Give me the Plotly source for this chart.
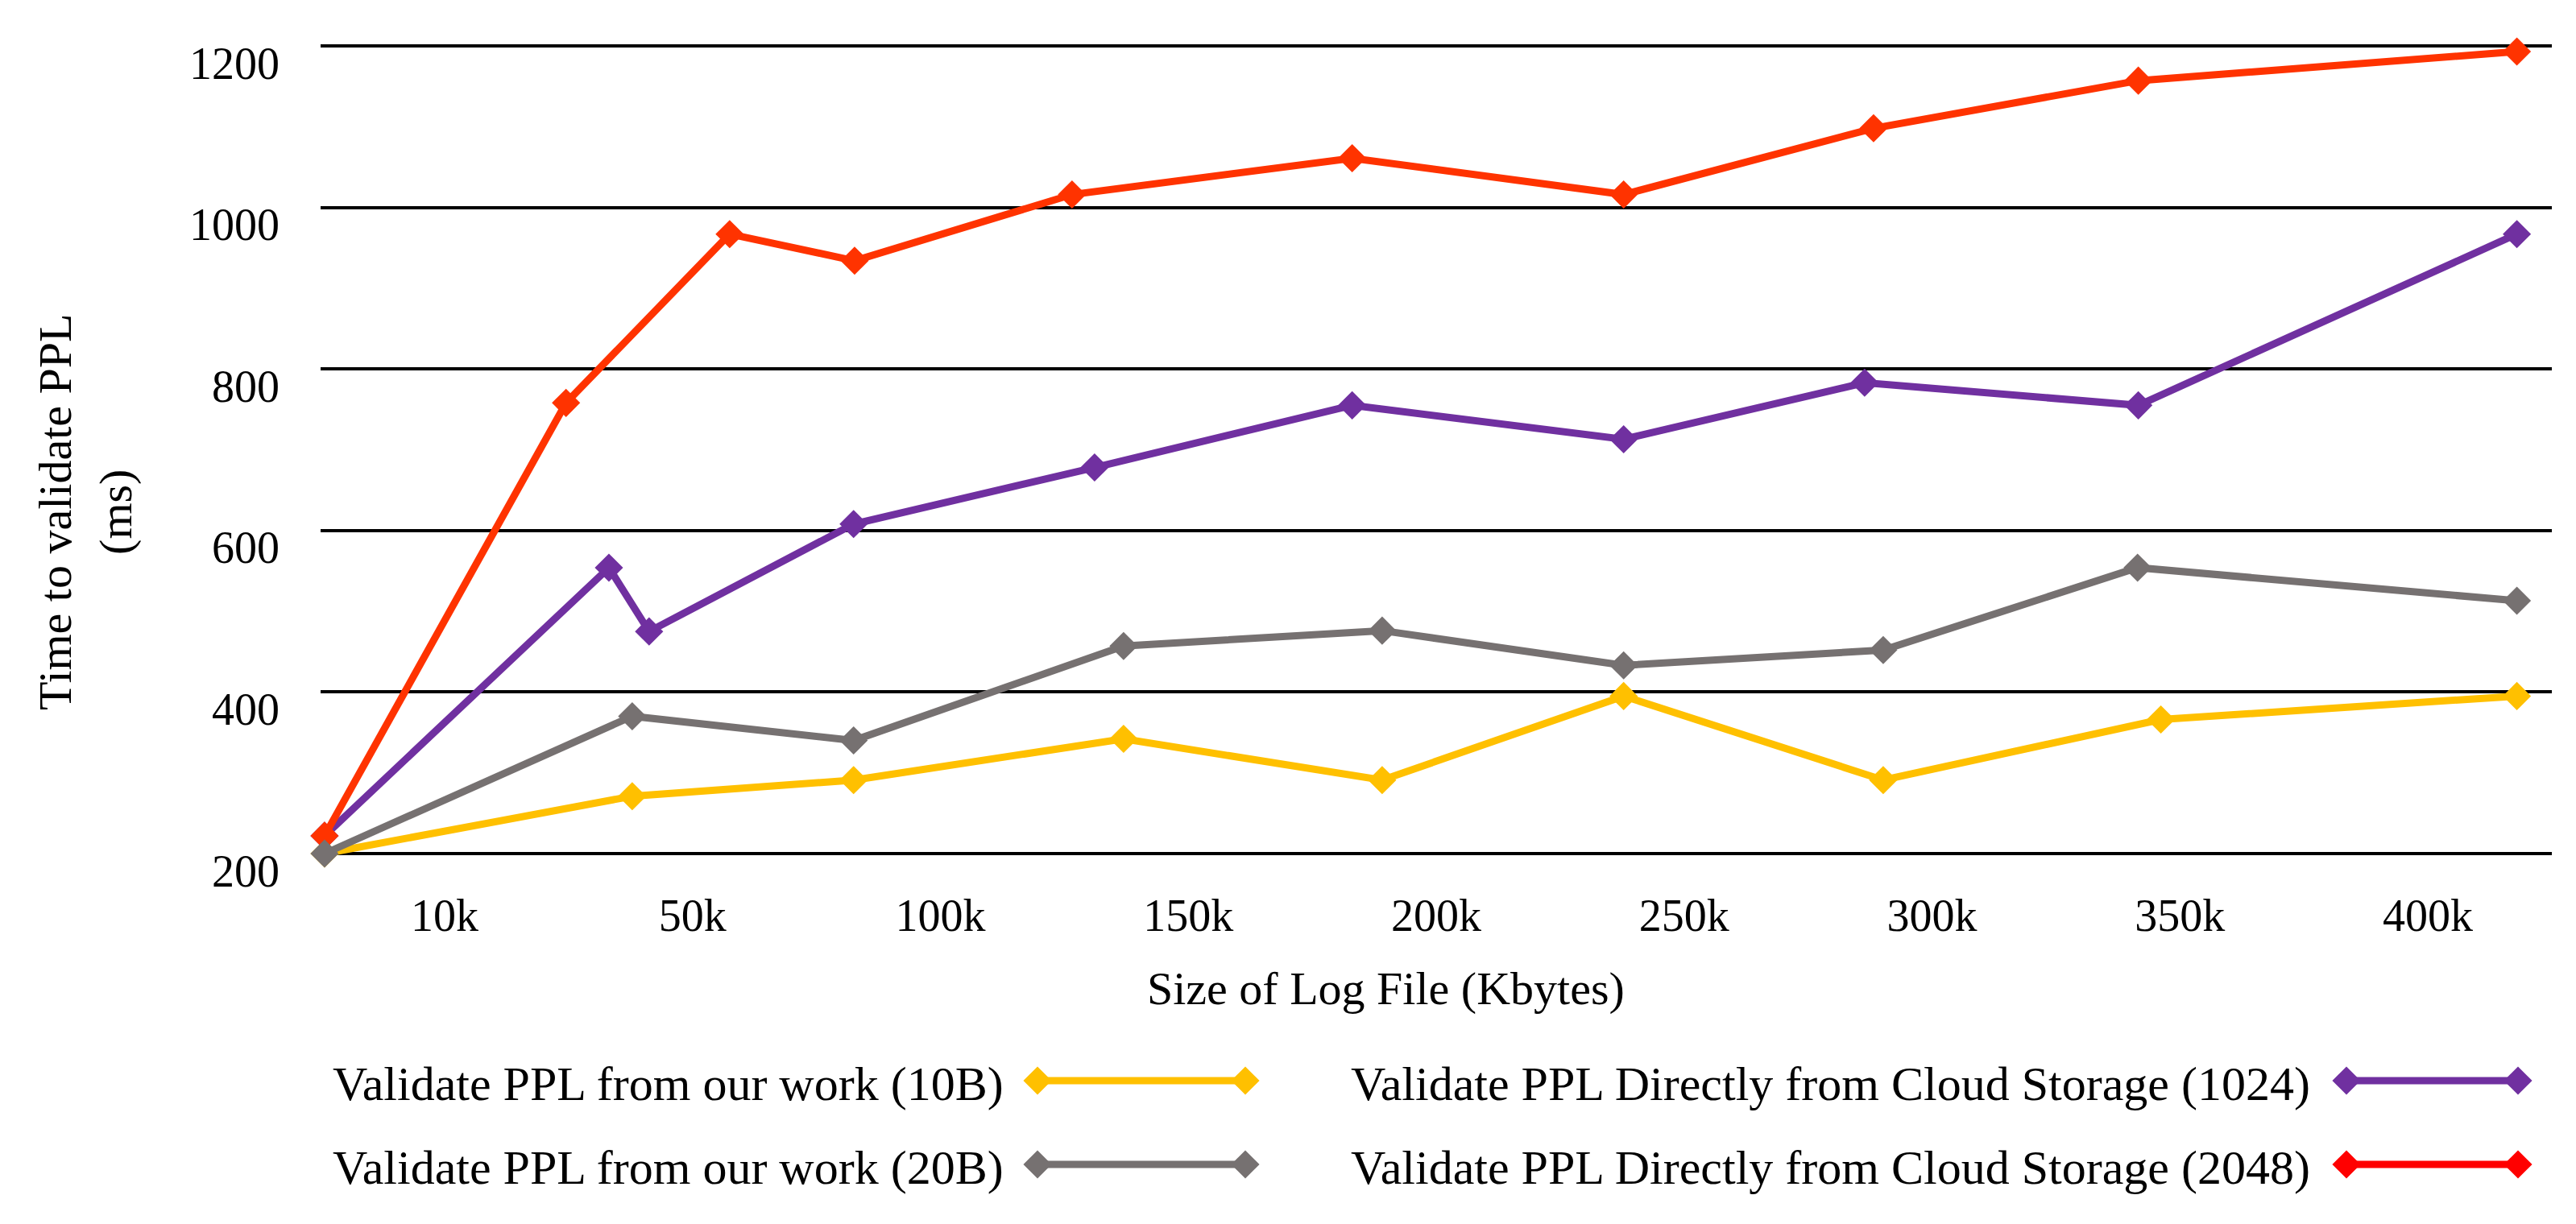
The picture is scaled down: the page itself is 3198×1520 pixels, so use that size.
import plotly.graph_objects as go

W, H = 3198, 1520

# ---------------- data ----------------
tick_labels = ["10k", "50k", "100k", "150k", "200k", "250k", "300k", "350k", "400k"]
tick_pos = list(range(len(tick_labels)))

names = [
    "Validate PPL from our work (10B)",
    "Validate PPL from our work (20B)",
    "Validate PPL Directly from Cloud Storage (1024)",
    "Validate PPL Directly from Cloud Storage (2048)",
]

# x positions along the category axis (category index units), y = time (ms)
x_10b = [-0.484, 0.757, 1.65, 2.739, 3.782, 4.756, 5.803, 6.923, 8.359]
y_10b = [200, 271, 291, 342, 291, 395, 291, 366, 395]

x_20b = [-0.484, 0.757, 1.65, 2.739, 3.782, 4.756, 5.803, 6.829, 8.359]
y_20b = [200, 370, 340, 457, 476, 433, 452, 554, 513]

x_1024 = [-0.484, 0.663, 0.825, 1.65, 2.622, 3.661, 4.756, 5.728, 6.832, 8.359]
y_1024 = [222, 554, 475, 608, 678, 755, 713, 783, 755, 967]

x_2048 = [-0.484, 0.49, 1.15, 1.654, 2.531, 3.661, 4.756, 5.764, 6.832, 8.359]
y_2048 = [222, 758, 967, 934, 1016, 1061, 1016, 1098, 1157, 1193]

y_ticks = [200, 400, 600, 800, 1000, 1200]

# ---------------- style ----------------
C_YEL = "#FFC000"
C_GRY = "#767171"
C_PUR = "#7030A0"
C_RED = "#FF3300"
C_RED_KEY = "#FF0000"
FONT = "Liberation Serif"
LW = 9
MS = 27

# plot area in pixels; y range padded by 5 units (~5 px) each side so that
# the 200 and 1200 gridlines are not dropped at the plot edges
Y_LO, Y_HI = 195, 1205
PL, PR, PT, PB = 390, 3160, 44, 1057

def px_x(p):
    return p / W

def px_y(p):
    return 1 - p / H

fig = go.Figure()

series = [
    (x_10b, y_10b, C_YEL, names[0]),
    (x_1024, y_1024, C_PUR, names[2]),
    (x_2048, y_2048, C_RED, names[3]),
    (x_20b, y_20b, C_GRY, names[1]),
]
for xs, ys, col, nm in series:
    fig.add_trace(go.Scatter(
        x=xs, y=ys, name=nm, mode="lines+markers",
        line=dict(color=col, width=LW),
        marker=dict(symbol="diamond", size=MS, color=col),
        cliponaxis=False, showlegend=False,
        xaxis="x", yaxis="y",
    ))

# ---------------- custom legend (text left, key right) ----------------
legend_items = [
    # (name, colour, key x0, key x1, row y, text right edge)
    (names[0], C_YEL, 1280, 1538, 1334, 1240),
    (names[1], C_GRY, 1280, 1538, 1438, 1240),
    (names[2], C_PUR, 2905, 3118, 1334, 2862),
    (names[3], C_RED_KEY, 2905, 3118, 1438, 2862),
]
annotations = []
for nm, col, kx0, kx1, ry, tx in legend_items:
    fig.add_trace(go.Scatter(
        x=[kx0, kx1], y=[ry, ry], mode="lines+markers",
        line=dict(color=col, width=LW),
        marker=dict(symbol="diamond", size=MS, color=col),
        cliponaxis=False, showlegend=False, hoverinfo="skip",
        xaxis="x2", yaxis="y2",
    ))
    annotations.append(dict(
        text=nm, x=px_x(tx), y=px_y(ry + 4), xref="paper", yref="paper",
        xanchor="right", yanchor="middle", showarrow=False,
        font=dict(family=FONT, size=60, color="black"),
    ))

# axis titles
annotations.append(dict(
    text="Size of Log File (Kbytes)", x=px_x(1712), y=px_y(1219),
    xref="paper", yref="paper", xanchor="center", yanchor="middle",
    showarrow=False, font=dict(family=FONT, size=58, color="black"),
))
annotations.append(dict(
    text="Time to validate PPL<br>(ms)", x=px_x(98), y=px_y(628),
    xref="paper", yref="paper", xanchor="center", yanchor="middle",
    textangle=-90, showarrow=False,
    font=dict(family=FONT, size=58, color="black"),
))

fig.update_layout(
    template="none",
    width=W, height=H,
    margin=dict(l=0, r=0, t=0, b=0, pad=0),
    paper_bgcolor="white",
    plot_bgcolor="rgba(0,0,0,0)",
    showlegend=False,
    annotations=annotations,
    xaxis=dict(
        domain=[px_x(PL), px_x(PR)],
        range=[-0.5, len(tick_labels) - 0.5],
        tickvals=tick_pos, ticktext=tick_labels,
        showgrid=False, zeroline=False, showline=False,
        ticks="", ticklabelstandoff=34, automargin=False,
        tickfont=dict(family=FONT, size=56, color="black"),
        anchor="y",
    ),
    yaxis=dict(
        domain=[px_y(PB), px_y(PT)],
        range=[Y_LO, Y_HI],
        tickvals=y_ticks,
        showgrid=True, gridcolor="black", gridwidth=4,
        zeroline=False, showline=False,
        ticks="", ticklabelstandoff=50, ticklabelshift=21, automargin=False,
        tickfont=dict(family=FONT, size=56, color="black"),
        anchor="x",
    ),
    xaxis2=dict(domain=[0, 1], range=[0, W], visible=False, anchor="y2",
                fixedrange=True, automargin=False),
    yaxis2=dict(domain=[0, 1], range=[H, 0], visible=False, anchor="x2",
                fixedrange=True, automargin=False),
)

fig.write_html("out.html")
